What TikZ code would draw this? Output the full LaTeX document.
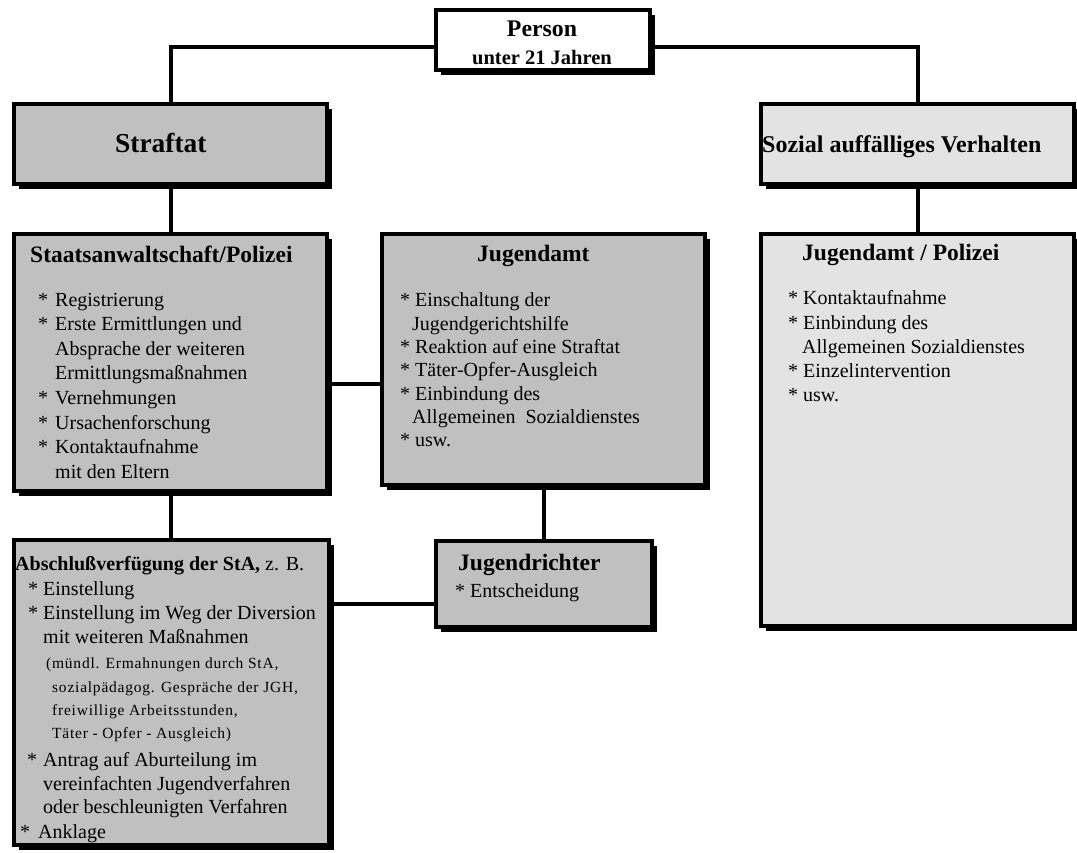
\documentclass[tikz,border=0pt]{standalone}
\usepackage{fontspec}
\setmainfont{Liberation Serif}
\newfontfamily\spacedfont[LetterSpace=5]{Liberation Serif}
\definecolor{mygray}{RGB}{192,192,192}
\definecolor{mylightgray}{RGB}{227,227,227}
\usetikzlibrary{positioning,calc,shadows}
\newcommand\bul[1][15pt]{\makebox[#1][l]{*}}
\newcommand\ind[1][15pt]{\hspace*{#1}}

\begin{document}
\begin{tikzpicture}[
  x=1pt, y=-1pt,
  mybox/.style={
    draw,
    line width=4pt,
    fill=#1,
    inner sep=0pt,
    drop shadow={shadow xshift=5pt, shadow yshift=-5pt, opacity=1, fill=black}
    },
  myline/.style={line width=4pt},
  mytext/.style={anchor=base west, inner sep=0pt, font=\fontsize{20}{24}\selectfont},
  myhead/.style={mytext, font=\fontsize{23.5}{28}\selectfont\bfseries},
  mysmall/.style={mytext, font=\spacedfont\fontsize{15.5}{18}\selectfont}
]
\useasboundingbox (0,0) rectangle (1077,853);

\node[mybox=white, minimum width=214, minimum height=60] (person) at (543,40) {};
\node[mybox=mygray, minimum width=313, minimum height=80] (straftat) at (170.5,144) {};
\node[mybox=mylightgray, minimum width=313, minimum height=80] (sozial) at (917.5,144) {};
\node[mybox=mygray, minimum width=313, minimum height=257] (staats) at (170.5,362.5) {};
\node[mybox=mygray, minimum width=323, minimum height=251] (jugendamt) at (543.5,359.5) {};
\node[mybox=mylightgray, minimum width=313, minimum height=392] (jpolizei) at (917.5,430) {};
\node[mybox=mygray, minimum width=216, minimum height=86] (richter) at (544,584) {};
\node[mybox=mygray, minimum width=315, minimum height=305] (abschluss) at (171.5,692.5) {};

\draw[myline] ([yshift=-7pt]person.west) -| (straftat.north);
\draw[myline] ([yshift=-7pt]person.east) -| (sozial.north);
\draw[myline] (straftat.south) -- (staats.north);
\draw[myline] (sozial.south) -- (jpolizei.north);
\draw[myline] (staats.south) -- (staats.south |- abschluss.north);
\draw[myline] (jugendamt.south) -- (jugendamt.south |- richter.north);
\coordinate (sj) at ([yshift=-21.5pt]staats.east);
\draw[myline] (sj) -- (sj -| jugendamt.west);
\coordinate (ar) at ([yshift=-20pt]richter.west);
\draw[myline] (ar) -- (ar -| abschluss.east);

\node[myhead, anchor=base, font=\fontsize{23.8}{28}\selectfont\bfseries] (personT) at (542,37) {Person};
\node[myhead, anchor=base, font=\fontsize{20.5}{24}\selectfont\bfseries] (personT2) at (542,65) {unter 21 Jahren};
\node[myhead, font=\fontsize{27.4}{32}\selectfont\bfseries] (straftatT) at (115,153) {Straftat};
\node[myhead, font=\fontsize{24}{28}\selectfont\bfseries] (sozialT) at (762,153) {Sozial auffälliges Verhalten};

\node[myhead] (staatsT) at (30,263) {Staatsanwaltschaft/Polizei};
\foreach \Zeile [count=\i from 0] in {
  {\bul[17pt]Registrierung},
  {\bul[17pt]Erste Ermittlungen und},
  {\ind[17pt]Absprache der weiteren},
  {\ind[17pt]Ermittlungsmaßnahmen},
  {\bul[17pt]Vernehmungen},
  {\bul[17pt]Ursachenforschung},
  {\bul[17pt]Kontaktaufnahme},
  {\ind[17pt]mit den Eltern}}
  \node[mytext] (staats-\i) at (38,306+24.6*\i) {\Zeile};

\node[myhead] (jugendamtT) at (477,262) {Jugendamt};
\foreach \Zeile [count=\i from 0] in {
  {\bul Einschaltung der},
  {\ind[12pt]Jugendgerichtshilfe},
  {\bul Reaktion auf eine Straftat},
  {\bul Täter-Opfer-Ausgleich},
  {\bul Einbindung des},
  {\ind[12pt]Allgemeinen\ \ Sozialdienstes},
  {\bul usw.}}
  \node[mytext] (jugendamt-\i) at (400,307+23.3*\i) {\Zeile};

\node[myhead] (jpolizeiT) at (802,261) {Jugendamt / Polizei};
\foreach \Zeile [count=\i from 0] in {
  {\bul Kontaktaufnahme},
  {\bul Einbindung des},
  {\ind[14pt]Allgemeinen Sozialdienstes},
  {\bul Einzelintervention},
  {\bul usw.}}
  \node[mytext] (jpolizei-\i) at (788,305+24*\i) {\Zeile};

\node[myhead] (richterT) at (458,570) {Jugendrichter};
\node[mytext] (richter-1) at (455,597) {\bul Entscheidung};

\node[mytext] (abschlussT) at (15,570) {\textbf{Abschlußverfügung der StA,} z. B.};
\foreach \x/\y/\Zeile [count=\i] in {
  28/595/{\bul Einstellung},
  28/619/{\bul Einstellung im Weg der Diversion},
  43/643/{mit weiteren Maßnahmen},
  27/766/{\bul[16pt]Antrag auf Aburteilung im},
  43/790/{vereinfachten Jugendverfahren},
  43/813/{oder beschleunigten Verfahren},
  20/838/{\bul[18pt]Anklage}}
  \node[mytext] (abschluss-\i) at (\x,\y) {\Zeile};
\foreach \x/\y/\Zeile [count=\i] in {
  46/668/{(mündl. Ermahnungen durch StA,},
  52/692/{sozialpädagog. Gespräche der JGH,},
  52/715/{freiwillige Arbeitsstunden,},
  52/738/{Täter - Opfer - Ausgleich)}}
  \node[mysmall] (klammer-\i) at (\x,\y) {\Zeile};

\end{tikzpicture}
\end{document}
